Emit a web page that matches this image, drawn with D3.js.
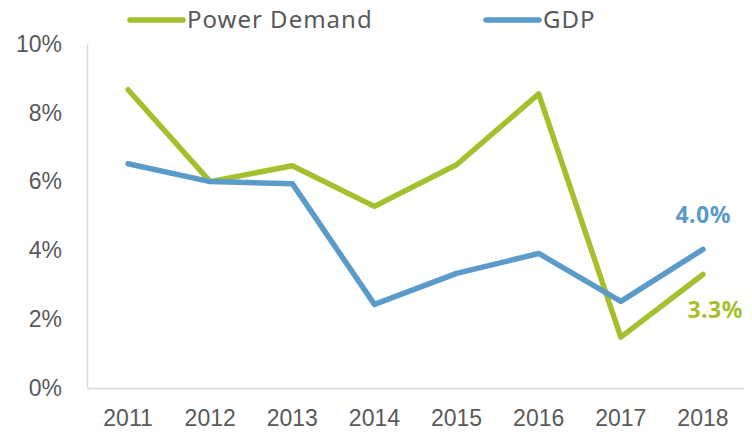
<!DOCTYPE html>
<html>
<head>
<meta charset="utf-8">
<script src="https://cdn.jsdelivr.net/npm/d3@7"></script>
<style>
	body { margin: 0; background: #fff; }
	svg { display: block; font-family: "Noto Sans", "Open Sans", sans-serif; }
</style>
</head>
<body>
<svg id="chart" width="752" height="433"></svg>
<script>
// data (% growth)
var years = ["2011", "2012", "2013", "2014", "2015", "2016", "2017", "2018"];
var powerDemand = [8.67, 6.0, 6.46, 5.28, 6.49, 8.55, 1.48, 3.3];
var gdp = [6.52, 6.0, 5.94, 2.43, 3.33, 3.91, 2.52, 4.03];
var yTicks = [0, 2, 4, 6, 8, 10];

var green = "#a5c02e", blue = "#5b9bc9", grey = "#595959";

var svg = d3.select("#chart");
var margin = { left: 87, right: 8, top: 44, bottom: 45 };
var width = 752 - margin.left - margin.right,
	height = 433 - margin.top - margin.bottom;

var x = d3.scaleBand().domain(years).range([0, width]);
var y = d3.scaleLinear().domain([0, 10]).range([height, 0]);

var g = svg.append("g")
	.attr("transform", "translate(" + margin.left + "," + margin.top + ")");

// y axis (line only + labels)
var yAxis = g.append("g")
	.call(d3.axisLeft(y).tickValues(yTicks).tickSize(0).tickPadding(25)
		.tickFormat(d => d + "%"));
yAxis.select(".domain").attr("stroke", "#d9d9d9").attr("stroke-width", 1.5);
yAxis.selectAll("text").attr("fill", grey).attr("font-size", 23);

// x axis
var xAxis = g.append("g")
	.attr("transform", "translate(0," + height + ")")
	.call(d3.axisBottom(x).tickSize(0).tickPadding(22));
xAxis.select(".domain").attr("stroke", "#d9d9d9").attr("stroke-width", 1.5);
xAxis.selectAll("text").attr("fill", grey).attr("font-size", 23);

var line = d3.line()
	.x((d, i) => x(years[i]) + x.bandwidth() / 2)
	.y(d => y(d));

var series = [
	{ name: "Power Demand", values: powerDemand, color: green },
	{ name: "GDP", values: gdp, color: blue }
];

g.selectAll("path.series")
	.data(series).enter()
	.append("path").attr("class", "series")
	.attr("d", d => line(d.values))
	.attr("fill", "none")
	.attr("stroke", d => d.color)
	.attr("stroke-width", 5.5)
	.attr("stroke-linejoin", "round")
	.attr("stroke-linecap", "round");

// end labels
var last = years.length - 1;
var lx = x(years[last]) + x.bandwidth() / 2;
g.append("text")
	.attr("x", lx + 28).attr("y", y(gdp[last]) - 34)
	.attr("text-anchor", "end")
	.attr("fill", blue).attr("font-weight", "bold").attr("font-size", 23)
	.attr("letter-spacing", 0.5)
	.attr("dy", "0.35em")
	.text(gdp[last].toFixed(1) + "%");
g.append("text")
	.attr("x", lx + 40).attr("y", y(powerDemand[last]) + 35)
	.attr("text-anchor", "end")
	.attr("fill", green).attr("font-weight", "bold").attr("font-size", 23)
	.attr("letter-spacing", 0.5)
	.attr("dy", "0.35em")
	.text(powerDemand[last].toFixed(1) + "%");

// legend
var legendX = [130, 486];
var legend = svg.selectAll("g.legend")
	.data(series).enter()
	.append("g").attr("class", "legend")
	.attr("transform", (d, i) => "translate(" + legendX[i] + ",20)");
legend.append("line")
	.attr("x1", 0).attr("x2", 53)
	.attr("stroke", d => d.color)
	.attr("stroke-width", 5.5)
	.attr("stroke-linecap", "round");
legend.append("text")
	.attr("x", 57).attr("dy", "0.35em")
	.attr("fill", grey).attr("font-size", 24)
	.attr("letter-spacing", 1)
	.text(d => d.name);
</script>
</body>
</html>
